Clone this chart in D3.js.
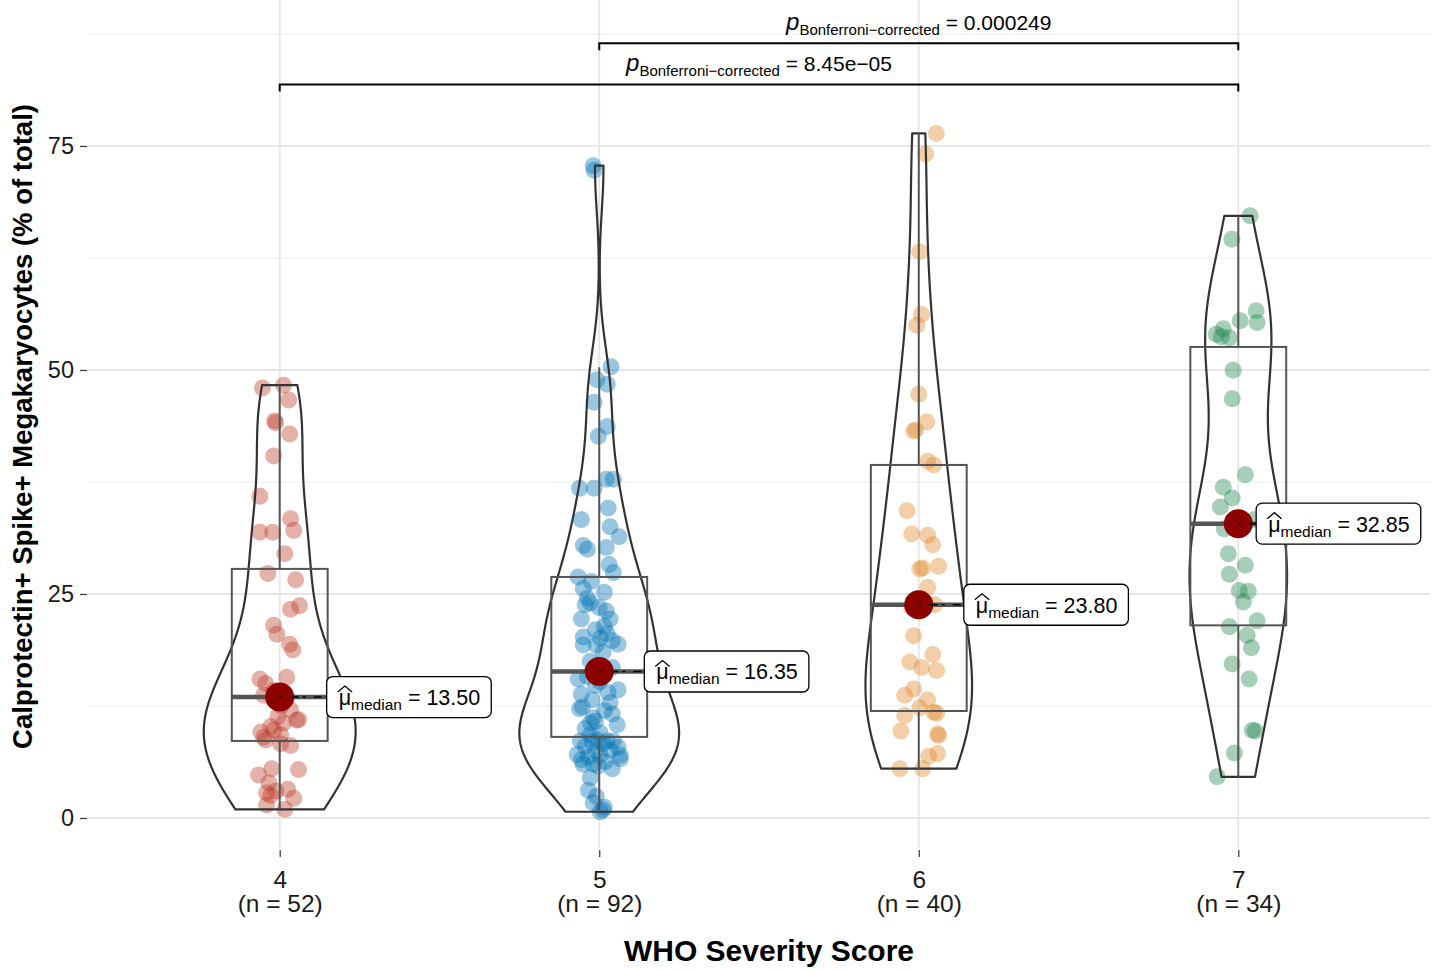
<!DOCTYPE html>
<html><head><meta charset="utf-8">
<script src="https://cdn.jsdelivr.net/npm/d3@7"></script>
<style>
body{margin:0;background:#fff;}
text{font-family:"Liberation Sans",Arial,Helvetica,sans-serif;}
</style>
</head><body>
<svg id="chart" width="1437" height="972"></svg>
<script>
// ---------------- data ----------------
const categories = ["4", "5", "6", "7"];
const colors = ["#BC3C29", "#0072B5", "#E18727", "#20854E"];

const values4 = [48.0,48.3,46.65,44.3,44.1,42.86,40.4,35.9,31.9,31.9,33.4,32.1,29.5,27.3,26.6,23.7,23.3,21.5,20.5,19.4,
  18.75,15.5,15.7,15.0,13.7,12.05,11.0,10.9,11.3,10.6,10.2,9.6,8.7,9.8,9.3,8.3,8.1,4.8,5.5,5.4,
  3.9,2.8,3.2,2.2,3.0,1.45,0.97,2.5,13.2,14.2,12.5,9.0];
const jitter4 = [-0.054,0.012,0.028,-0.016,-0.013,0.031,-0.019,-0.062,-0.062,-0.022,0.034,0.044,0.016,-0.037,0.05,0.062,0.034,-0.019,-0.009,0.031,
  0.041,-0.062,0.022,-0.044,-0.05,0.034,0.059,0.053,-0.006,0.012,-0.028,-0.059,-0.044,-0.019,0.003,0.003,0.034,-0.066,-0.025,0.059,
  -0.034,-0.041,0.025,0.044,-0.012,-0.041,0.016,-0.028,0.02,-0.02,0.005,-0.05];

const values5 = [72.8,72.3,50.36,48.9,48.4,46.4,43.7,42.6,36.8,36.8,37.8,37.8,34.6,33.3,32.5,31.4,30.4,30.0,30.2,28.3,
  27.4,26.9,26.4,25.6,25.2,24.55,23.8,23.5,23.1,22.2,21.4,22.2,20.2,20.1,19.4,19.3,19.3,15.5,14.3,13.8,
  15.2,12.9,12.2,12.4,10.4,10.8,11.2,10.6,8.6,7.1,6.5,6.0,8.5,8.7,8.6,8.6,7.9,7.0,6.6,7.0,
  6.0,8.3,3.1,1.7,0.7,0.9,
  24.0,21.0,20.6,19.8,18.5,17.5,16.8,15.8,14.8,14.0,13.2,12.0,11.6,10.0,9.5,9.3,8.0,7.5,7.6,6.8,6.3,5.8,5.5,4.5,2.4,1.2];
const jitter5 = [-0.019,-0.016,0.037,-0.007,0.025,-0.016,0.025,-0.003,-0.062,-0.016,0.022,0.044,0.028,-0.056,0.034,0.062,-0.05,-0.037,0.022,0.031,
  0.044,-0.066,-0.025,-0.05,0.016,-0.037,-0.044,0,0.022,0.034,0.016,-0.056,-0.05,0.003,0.059,-0.05,-0.009,-0.066,0.059,-0.056,
  0.003,0.034,-0.062,-0.053,0.056,-0.012,-0.019,-0.028,-0.059,-0.069,-0.056,-0.05,-0.022,-0.006,0.025,0.044,0.059,0.066,0.066,0.003,
  -0.019,0.012,-0.034,-0.019,0.003,0.012,
  -0.028,-0.012,0.025,0.041,0.012,-0.028,0.041,-0.037,-0.012,0.028,-0.022,0.016,0.041,-0.044,0.003,-0.028,-0.044,-0.012,0.034,-0.034,0.019,-0.003,0.041,-0.028,-0.009,0.016];

const values6 = [76.4,74.1,63.2,56.2,55.0,47.3,44.2,43.3,43.2,39.8,39.4,34.3,31.7,31.55,30.5,27.9,27.8,28.1,25.75,23.8,
  20.35,18.25,17.4,16.8,16.45,14.4,13.7,13.2,12.3,11.8,11.7,11.45,9.7,9.4,9.2,7.2,6.9,5.5,5.5,23.5];
const jitter6 = [0.055,0.022,0.003,0.008,-0.006,0,0.025,-0.009,-0.016,0.028,0.047,-0.037,-0.022,0.028,0.044,0.012,0.003,0.062,0.028,0.05,
  -0.016,0.044,-0.028,0.009,0.056,-0.016,-0.044,0.028,0.003,0.047,0.056,-0.044,-0.056,0.059,0.062,0.059,0.031,-0.059,0.012,-0.022];

const values7 = [67.2,64.6,56.6,55.3,55.5,54.0,54.6,53.6,53.7,49.97,46.8,38.3,36.9,35.7,34.7,33.3,32.25,29.5,28.2,27.2,
  25.4,25.3,24.1,22.0,21.35,20.4,19.0,17.2,15.5,9.8,9.7,7.25,4.6,32.6];
const jitter7 = [0.037,-0.02,0.056,0.059,0.006,-0.069,-0.047,-0.028,-0.053,-0.016,-0.019,0.022,-0.047,-0.019,-0.056,0.05,-0.044,-0.031,0.022,-0.028,
  0.003,0.031,0.016,0.059,-0.028,0.028,0.041,-0.019,0.034,0.044,0.053,-0.012,-0.066,0.003];

const groupValues = [values4, values5, values6, values7];
const groupJitter = [jitter4, jitter5, jitter6, jitter7];

// boxplot statistics
const boxQ1 = [8.6, 9.05, 11.94, 21.5];
const boxMedian = [13.50, 16.35, 23.80, 32.85];
const boxQ3 = [27.8, 26.9, 39.4, 52.57];
const whiskerLow = [0.99, 0.67, 5.47, 4.58];
const whiskerHigh = [48.3, 50.3, 76.4, 67.2];
const medianLabels = ["13.50", "16.35", "23.80", "32.85"];
// horizontal offset of each repelled label, in category units
const labelNudge = [0.147, 0.141, 0.141, 0.056];

const yTicks = [0, 25, 50, 75];
const yMinorTicks = [12.5, 37.5, 62.5, 87.5];

const compFrom = ["5", "4"];
const compTo = ["7", "7"];
const compY = [86.45, 81.87];
const compP = ["0.000249", "8.45e\u221205"];

const xTitle = "WHO Severity Score";
const yTitle = "Calprotectin+ Spike+ Megakaryocytes (% of total)";

// ---------------- layout ----------------
const svg = d3.select("#chart");
const panel = {left: 88, right: 1430, top: 0, bottom: 848};
const x = d3.scalePoint().domain(categories).range([panel.left, panel.right]).padding(0.6);
const step = x.step();
const y = d3.scaleLinear().domain([-3.348, 91.29]).range([panel.bottom, panel.top]);

// gridlines
const grid = svg.append("g");
grid.selectAll(".minor").data(yMinorTicks).join("line")
  .attr("x1", panel.left).attr("x2", panel.right)
  .attr("y1", d => y(d)).attr("y2", d => y(d))
  .attr("stroke", "#ededed").attr("stroke-width", 1.1);
grid.selectAll(".major").data(yTicks).join("line")
  .attr("x1", panel.left).attr("x2", panel.right)
  .attr("y1", d => y(d)).attr("y2", d => y(d))
  .attr("stroke", "#e6e6e6").attr("stroke-width", 1.8);
grid.selectAll(".vx").data(categories).join("line")
  .attr("x1", d => x(d)).attr("x2", d => x(d))
  .attr("y1", panel.top).attr("y2", panel.bottom)
  .attr("stroke", "#e6e6e6").attr("stroke-width", 1.8);

// axes
const yAxis = d3.axisLeft(y).tickValues(yTicks).tickSize(7).tickPadding(6);
const gy = svg.append("g").attr("transform", `translate(${panel.left - 1},0)`).call(yAxis);
gy.select(".domain").remove();
gy.selectAll(".tick line").attr("stroke", "#333").attr("stroke-width", 1.2);
gy.selectAll(".tick text").attr("font-size", 23.5).attr("fill", "#1a1a1a")
  .attr("font-family", "Liberation Sans, Arial, sans-serif");

const xAxis = d3.axisBottom(x).tickSize(7).tickPadding(0).tickFormat(() => "");
const gx = svg.append("g").attr("transform", `translate(0,${panel.bottom + 2})`).call(xAxis);
gx.select(".domain").remove();
gx.selectAll(".tick line").attr("stroke", "#333").attr("stroke-width", 1.2);
gx.selectAll(".tick").each(function(d, i) {
  const g = d3.select(this);
  g.append("text").attr("fill", "#1a1a1a").attr("font-size", 24.5)
    .attr("text-anchor", "middle").attr("font-family", "Liberation Sans, Arial, sans-serif")
    .attr("x", 0).attr("y", 38).text(d);
  g.append("text").attr("fill", "#1a1a1a").attr("font-size", 24.5)
    .attr("text-anchor", "middle").attr("font-family", "Liberation Sans, Arial, sans-serif")
    .attr("x", 0).attr("y", 62).text(`(n = ${groupValues[i].length})`);
});

svg.append("text").attr("x", 769).attr("y", 961)
  .attr("text-anchor", "middle").attr("font-size", 30).attr("font-weight", "bold").text(xTitle);
svg.append("text").attr("transform", `translate(32,${(105 + 748) / 2}) rotate(-90)`)
  .attr("text-anchor", "middle").attr("font-size", 27.5).attr("font-weight", "bold").text(yTitle);

// ---------------- points ----------------
const pts = svg.append("g");
groupValues.forEach((vals, gi) => {
  pts.selectAll(null).data(vals).join("circle")
    .attr("cx", (d, i) => x(categories[gi]) + groupJitter[gi][i] * step)
    .attr("cy", d => y(d))
    .attr("r", 8.5)
    .attr("fill", colors[gi]).attr("fill-opacity", 0.4);
});

// ---------------- violins ----------------
function nrd0(v) {
  const s = d3.deviation(v);
  const iqr = d3.quantile(v, 0.75) - d3.quantile(v, 0.25);
  let lo = Math.min(s, iqr / 1.34);
  if (!(lo > 0)) lo = s || Math.abs(v[0]) || 1;
  return 0.9 * lo * Math.pow(v.length, -0.2);
}
const dens = groupValues.map(vals => {
  const v = vals.slice().sort(d3.ascending);
  const bw = nrd0(v);
  const lo = v[0], hi = v[v.length - 1];
  const n = 512;
  const out = [];
  for (let k = 0; k < n; k++) {
    const t = lo + (hi - lo) * k / (n - 1);
    let s = 0;
    for (const xi of v) { const u = (t - xi) / bw; s += Math.exp(-0.5 * u * u); }
    out.push([t, s / (v.length * bw * Math.sqrt(2 * Math.PI))]);
  }
  return out;
});
const maxD = d3.max(dens, g => d3.max(g, d => d[1]));
const violinHalf = 0.25 * step;
const vg = svg.append("g");
dens.forEach((g, gi) => {
  const cx = x(categories[gi]);
  const right = g.map(d => [cx + d[1] / maxD * violinHalf, y(d[0])]);
  const left = g.slice().reverse().map(d => [cx - d[1] / maxD * violinHalf, y(d[0])]);
  vg.append("path").attr("d", d3.line()(right.concat(left)) + "Z")
    .attr("fill", "none").attr("stroke", "#333").attr("stroke-width", 2.2)
    .attr("stroke-linejoin", "round");
});

// ---------------- boxplots ----------------
const bg = svg.append("g");
const boxHalf = 0.15 * step;
categories.forEach((c, gi) => {
  const cx = x(c);
  bg.append("line").attr("x1", cx).attr("x2", cx).attr("y1", y(boxQ3[gi])).attr("y2", y(whiskerHigh[gi]))
    .attr("stroke", "#555").attr("stroke-width", 2);
  bg.append("line").attr("x1", cx).attr("x2", cx).attr("y1", y(boxQ1[gi])).attr("y2", y(whiskerLow[gi]))
    .attr("stroke", "#555").attr("stroke-width", 2);
  bg.append("rect").attr("x", cx - boxHalf).attr("width", 2 * boxHalf)
    .attr("y", y(boxQ3[gi])).attr("height", y(boxQ1[gi]) - y(boxQ3[gi]))
    .attr("fill", "none").attr("stroke", "#555").attr("stroke-width", 2);
  bg.append("line").attr("x1", cx - boxHalf).attr("x2", cx + boxHalf)
    .attr("y1", y(boxMedian[gi])).attr("y2", y(boxMedian[gi]))
    .attr("stroke", "#555").attr("stroke-width", 4.5);
});

// ---------------- centrality + labels ----------------
const lg = svg.append("g");
categories.forEach((c, gi) => {
  const cx = x(c), cy = y(boxMedian[gi]);
  const labelLeft = cx + labelNudge[gi] * step;
  lg.append("circle").attr("cx", cx).attr("cy", cy).attr("r", 14.5).attr("fill", "#8B0000");
  lg.append("line").attr("x1", cx).attr("x2", labelLeft).attr("y1", cy).attr("y2", cy)
    .attr("stroke", "#000").attr("stroke-width", 1.6).attr("stroke-dasharray", "3,8,8,4");
  const g = lg.append("g");
  const rect = g.append("rect");
  const t = g.append("text").attr("x", labelLeft + 12).attr("y", cy + 8).attr("font-size", 21.5).attr("fill", "#000");
  t.append("tspan").text("\u03bc");
  t.append("tspan").attr("font-size", 15.5).attr("dy", 5).text("median");
  t.append("tspan").attr("dy", -5).text(" = " + medianLabels[gi]);
  const node = t.node();
  const mx0 = node.getStartPositionOfChar(0).x, mx1 = node.getEndPositionOfChar(0).x;
  const base = cy + 8;
  g.append("path").attr("d", `M${mx0 - 1},${base - 13} L${(mx0 + mx1) / 2},${base - 19} L${mx1 + 1},${base - 13}`)
    .attr("fill", "none").attr("stroke", "#000").attr("stroke-width", 1.3);
  const bb = node.getBBox();
  rect.attr("x", labelLeft).attr("y", cy - 20.5).attr("width", bb.x + bb.width + 11 - labelLeft).attr("height", 41)
    .attr("rx", 6).attr("fill", "#fff").attr("stroke", "#000").attr("stroke-width", 1.3);
});

// ---------------- significance brackets ----------------
const sg = svg.append("g");
compFrom.forEach((f, i) => {
  const x1 = x(f), x2 = x(compTo[i]), yy = y(compY[i]);
  sg.append("path").attr("d", `M${x1},${yy + 7} L${x1},${yy} L${x2},${yy} L${x2},${yy + 7}`)
    .attr("fill", "none").attr("stroke", "#000").attr("stroke-width", 2);
  const t = sg.append("text").attr("x", (x1 + x2) / 2).attr("y", yy - 13)
    .attr("text-anchor", "middle").attr("font-size", 21).attr("fill", "#000");
  t.append("tspan").attr("font-style", "italic").attr("font-size", 24).text("p");
  t.append("tspan").attr("font-size", 15).attr("dy", 5).text("Bonferroni\u2212corrected");
  t.append("tspan").attr("dy", -5).text(" = " + compP[i]);
});
</script>
</body></html>
